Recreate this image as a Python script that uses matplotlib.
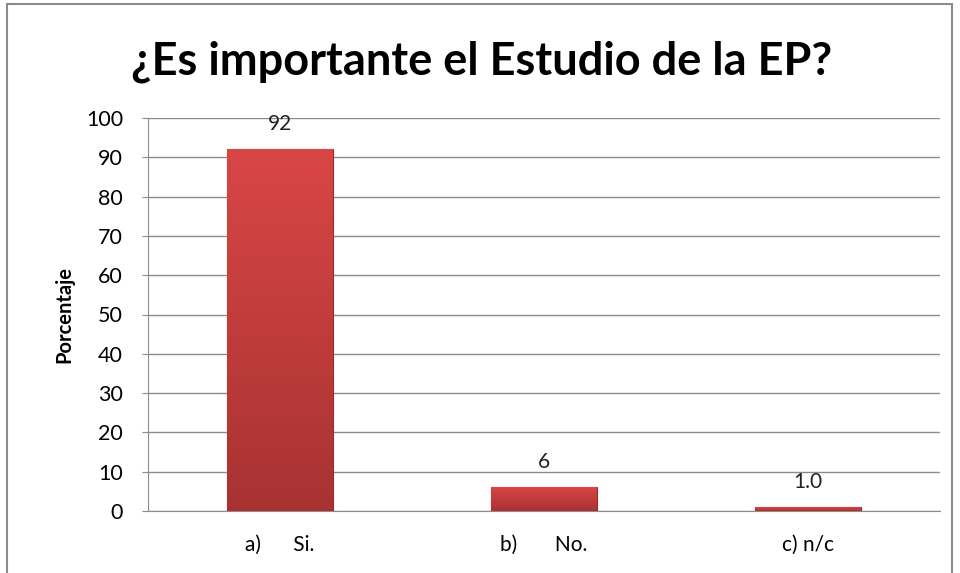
import matplotlib
matplotlib.use("Agg")
import matplotlib.pyplot as plt
import numpy as np
from matplotlib.patches import Rectangle
from matplotlib.colors import LinearSegmentedColormap

categories = ["a)      Si.", "b)       No.", "c) n/c"]
values = [92, 6, 1.0]
value_labels = ["92", "6", "1.0"]
yticks = [0, 10, 20, 30, 40, 50, 60, 70, 80, 90, 100]

plt.rcParams['font.family'] = ['Lato', 'DejaVu Sans']

fig = plt.figure(figsize=(9.6, 5.73), dpi=100)
fig.patch.set_facecolor("white")
# outer chart border
fig.patches.append(Rectangle((7/960, -0.05), (952-7)/960, 1.05 - 4/573,
                             transform=fig.transFigure, fill=False,
                             edgecolor="#8c8c8c", linewidth=1.5))

ax = fig.add_axes([148/960, 1-511/573, (940-148)/960, (511-118)/573])
x = np.arange(len(categories))
bars = ax.bar(x, values, width=0.4, color="#c83c3c", edgecolor="#9a2a2a",
              linewidth=0.8, zorder=3)

# vertical gradient inside each bar
grad = np.linspace(0, 1, 256).reshape(-1, 1)
cmap = LinearSegmentedColormap.from_list("r", ["#a83232", "#d94646"])
for b in bars:
    x0, y0 = b.get_x(), b.get_y()
    w, h = b.get_width(), b.get_height()
    im = ax.imshow(grad, extent=[x0, x0 + w, y0, y0 + h], origin="lower",
                   cmap=cmap, aspect="auto", zorder=3.5)
    im.set_clip_path(b)

for xi, v, lab in zip(x, values, value_labels):
    ax.annotate(lab, (xi, v), xytext=(0, 11), textcoords="offset points",
                ha="center", va="bottom", fontsize=15, color="#222222")

ax.set_xlim(-0.5, len(categories) - 0.5)
ax.set_ylim(0, 100)
ax.set_yticks(yticks)
ax.set_yticklabels([str(t) for t in yticks], fontsize=15.5)
ax.set_xticks(x)
ax.set_xticklabels(categories, fontsize=15)
ax.tick_params(axis="x", length=0, pad=17)
ax.tick_params(axis="y", length=4, color="#8c8c8c", pad=14)
ax.grid(axis="y", color="#8c8c8c", linewidth=1.0, zorder=0)
ax.set_axisbelow(True)
for s in ["top", "right"]:
    ax.spines[s].set_visible(False)
ax.spines["left"].set_color("#8c8c8c")
ax.spines["bottom"].set_color("#8c8c8c")

ax.set_ylabel("Porcentaje", fontsize=14.5, fontweight="bold", labelpad=8)
fig.text(482/960, 1-62/573, "¿Es importante el Estudio de la EP?",
         ha="center", va="center", fontsize=32.5, fontweight="bold")

fig.savefig("out.png", dpi=100)
